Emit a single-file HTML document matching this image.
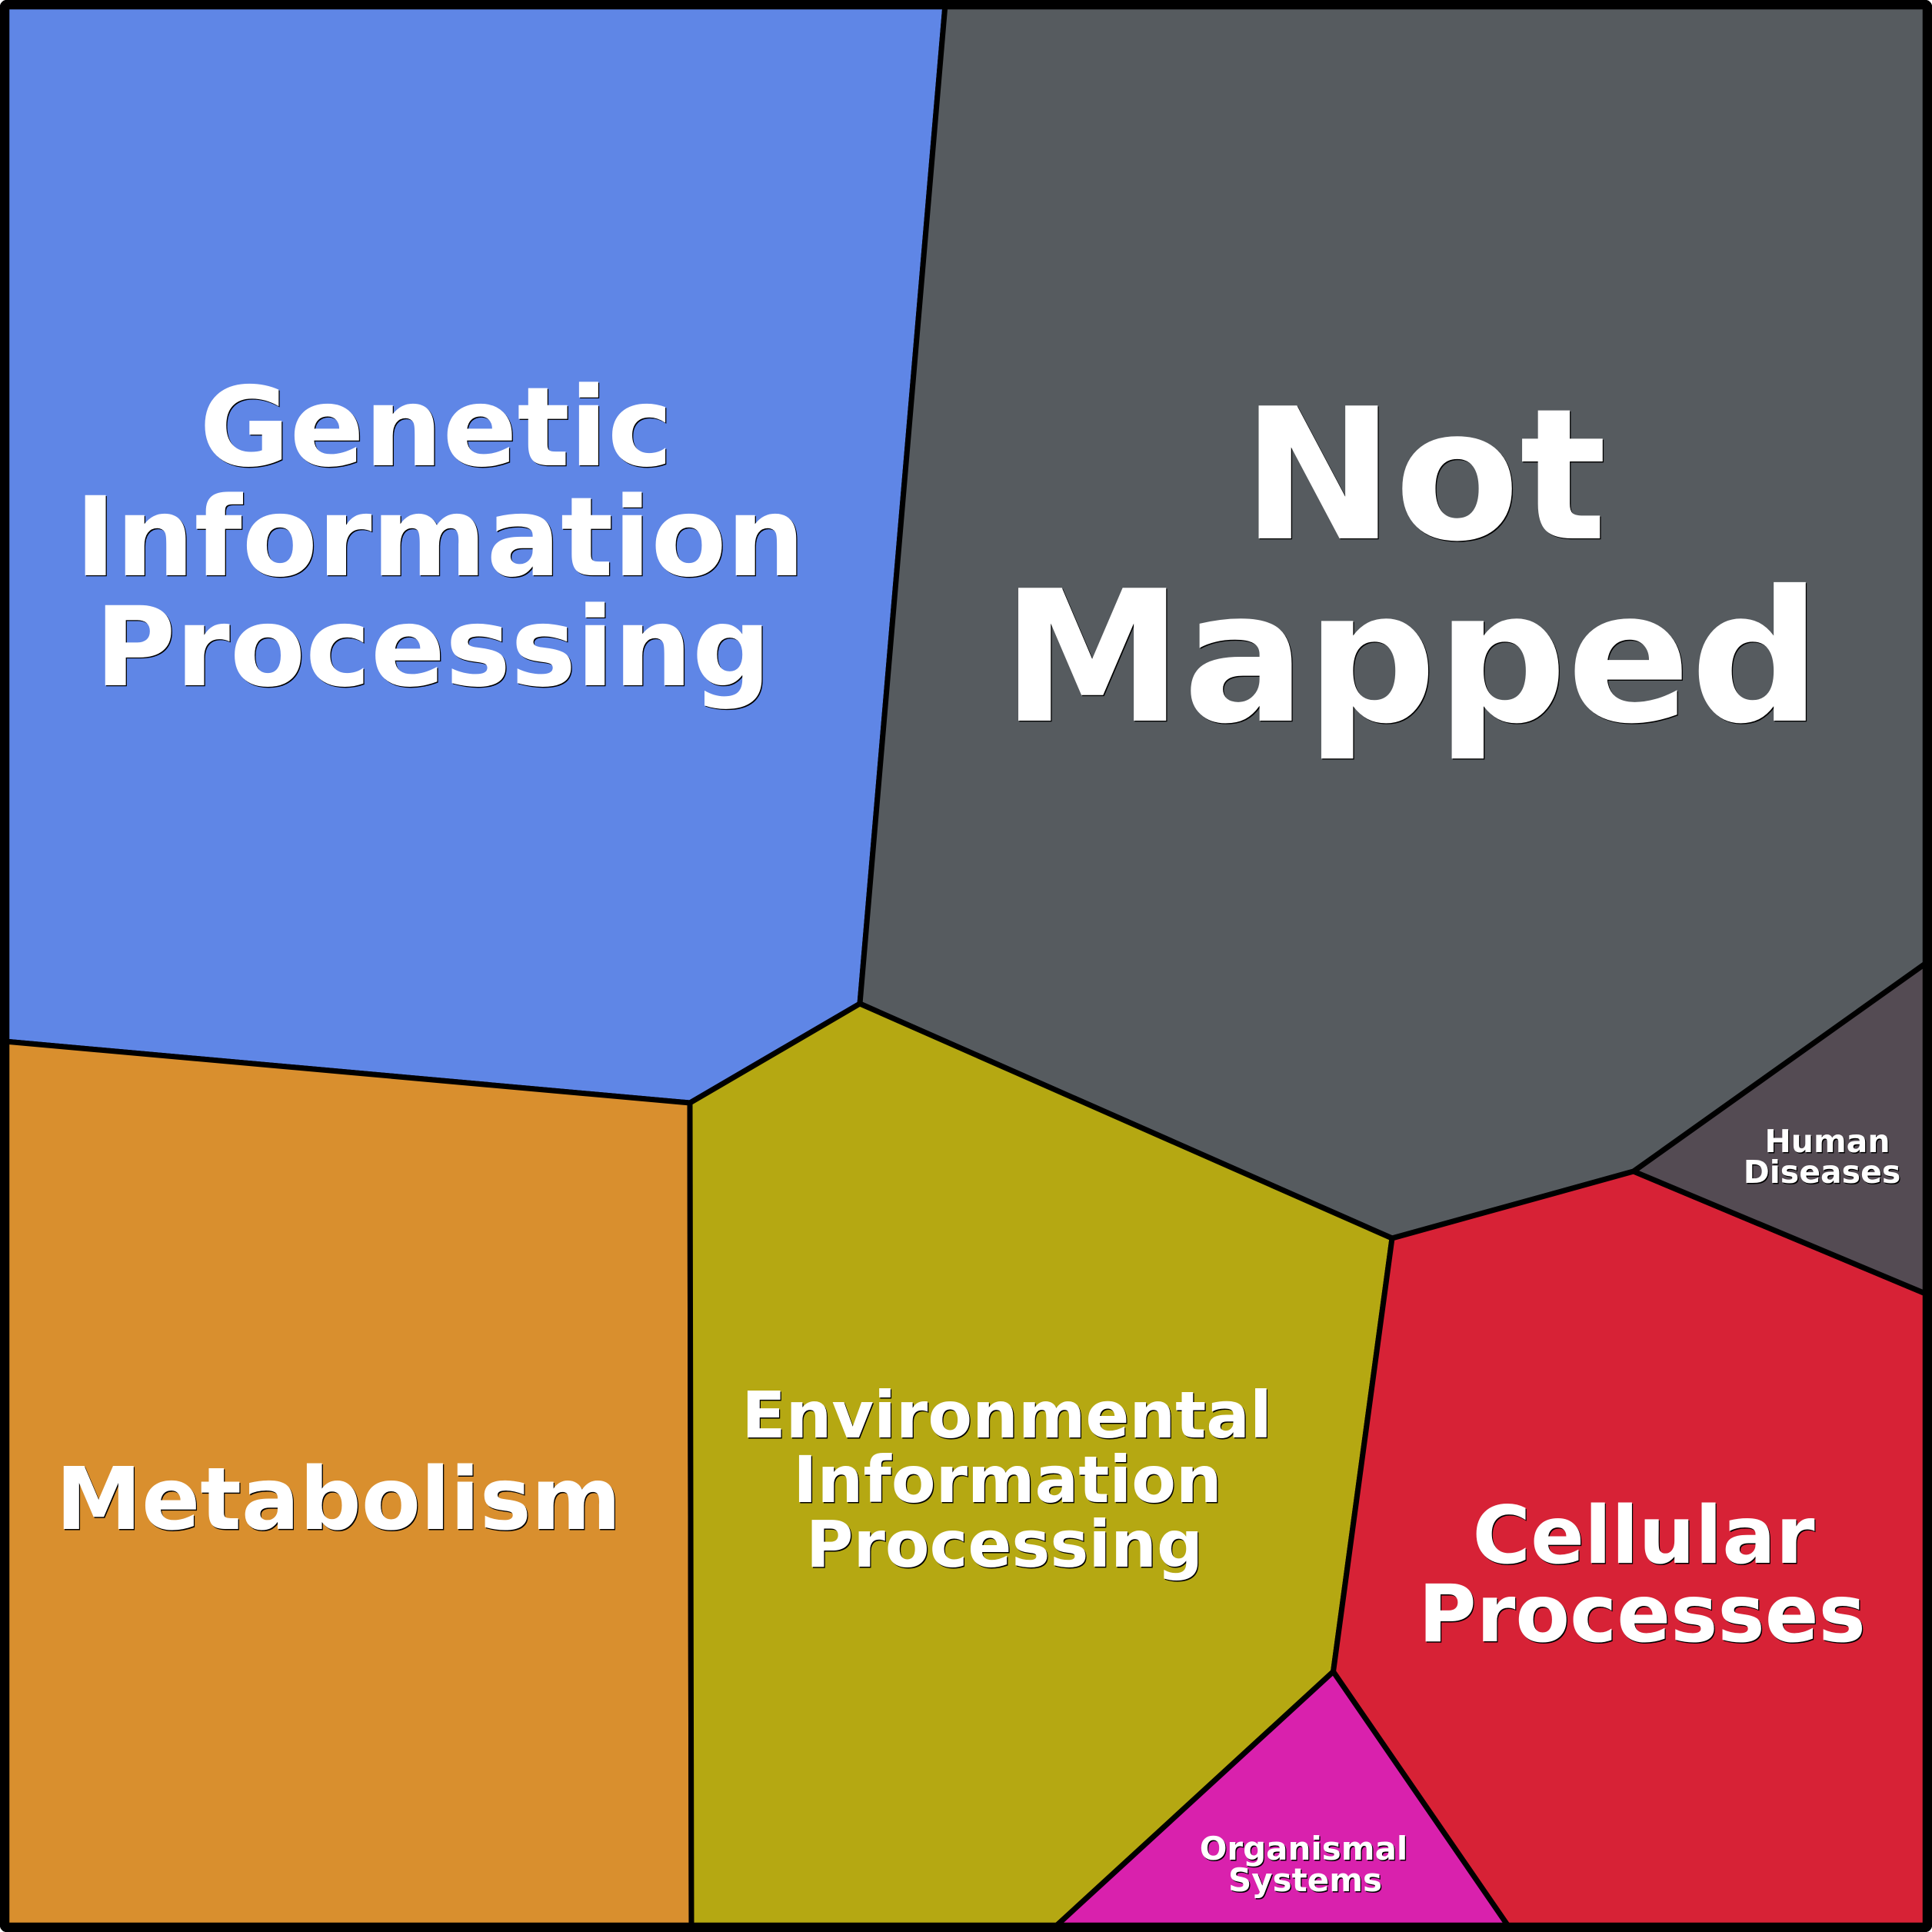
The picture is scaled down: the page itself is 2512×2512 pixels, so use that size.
<!DOCTYPE html>
<html><head><meta charset="utf-8"><style>
html,body{margin:0;padding:0;background:#fff}
svg{display:block}
text{font-family:"DejaVu Sans",sans-serif;font-weight:bold;text-anchor:middle}
.s{fill:#000}.w{fill:#fff}
</style></head><body>
<svg width="2512" height="2512" viewBox="0 0 2512 2512" xmlns="http://www.w3.org/2000/svg">
<rect width="2512" height="2512" fill="#fff"/>
<g stroke="#000" stroke-width="7" stroke-linejoin="round">
<polygon fill="#5F86E6" points="6,6 1229,6 1118,1305 897,1434 6,1354"/>
<polygon fill="#565B5F" points="1229,6 2506,6 2506,1251 2124,1523 1810,1610 1118,1305"/>
<polygon fill="#D98F2E" points="6,1354 897,1434 899,2508 6,2508"/>
<polygon fill="#B5A812" points="897,1434 1118,1305 1810,1610 1733.5,2173.5 1369,2508 899,2508"/>
<polygon fill="#D72236" points="1810,1610 2124,1523 2506,1683 2506,2508 1963.5,2508 1733.5,2173.5"/>
<polygon fill="#544B53" points="2124,1523 2506,1251 2506,1683"/>
<polygon fill="#D921AD" points="1733.5,2173.5 1963.5,2508 1369,2508"/>
</g>
<rect x="6" y="6" width="2500" height="2500" rx="3" fill="none" stroke="#000" stroke-width="12.5"/>
<g class="s" transform="translate(1.3,1.3)">
<text x="567" y="605" font-size="143">Genetic</text>
<text x="572" y="748" font-size="143">Information</text>
<text x="563" y="891" font-size="143">Processing</text>
<text x="1852" y="700" font-size="237">Not</text>
<text x="1835" y="937" font-size="237">Mapped</text>
<text x="440" y="1988" font-size="112.2">Metabolism</text>
<text x="1309" y="1869" font-size="84">Environmental</text>
<text x="1310" y="1953" font-size="84">Information</text>
<text x="1306" y="2037" font-size="84">Processing</text>
<text x="2137" y="2032" font-size="103">Cellular</text>
<text x="2135" y="2134" font-size="103">Processes</text>
<text x="2376" y="1498" font-size="41">Human</text>
<text x="2369" y="1538" font-size="41">Diseases</text>
<text x="1695" y="2418" font-size="42">Organismal</text>
<text x="1697" y="2459" font-size="42">Systems</text>
</g>
<g class="w">
<text x="567" y="605" font-size="143">Genetic</text>
<text x="572" y="748" font-size="143">Information</text>
<text x="563" y="891" font-size="143">Processing</text>
<text x="1852" y="700" font-size="237">Not</text>
<text x="1835" y="937" font-size="237">Mapped</text>
<text x="440" y="1988" font-size="112.2">Metabolism</text>
<text x="1309" y="1869" font-size="84">Environmental</text>
<text x="1310" y="1953" font-size="84">Information</text>
<text x="1306" y="2037" font-size="84">Processing</text>
<text x="2137" y="2032" font-size="103">Cellular</text>
<text x="2135" y="2134" font-size="103">Processes</text>
<text x="2376" y="1498" font-size="41">Human</text>
<text x="2369" y="1538" font-size="41">Diseases</text>
<text x="1695" y="2418" font-size="42">Organismal</text>
<text x="1697" y="2459" font-size="42">Systems</text>
</g>
</svg>
</body></html>
